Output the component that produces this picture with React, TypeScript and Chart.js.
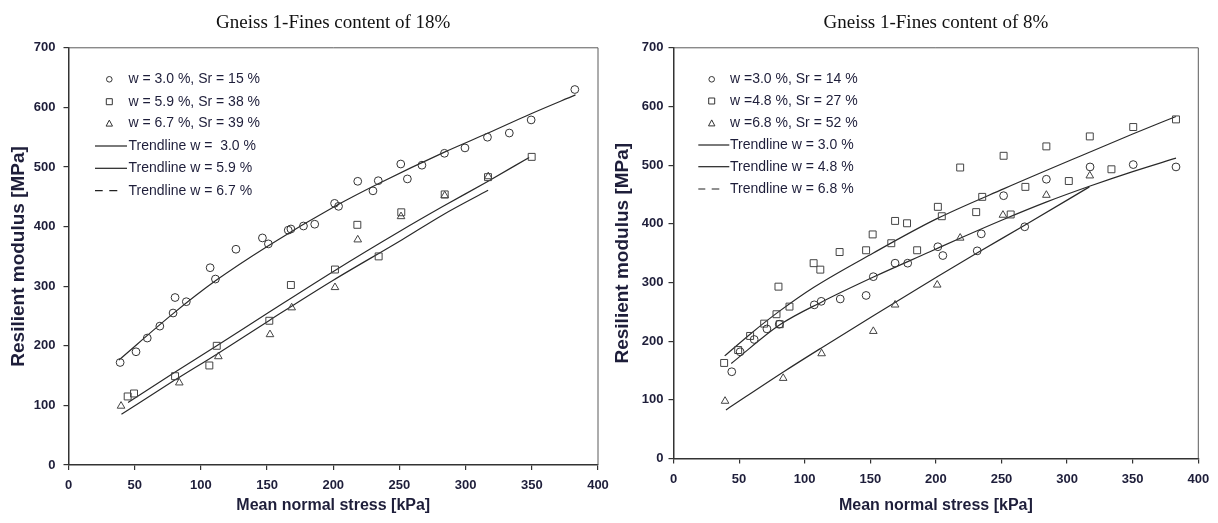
import React, { useEffect, useRef } from "react";
import { Chart, registerables } from "chart.js";

Chart.register(...registerables);

// ---------- shared axis values ----------
const stressTicks = [0, 50, 100, 150, 200, 250, 300, 350, 400];
const modulusTicks = [0, 100, 200, 300, 400, 500, 600, 700];

// ---------- Left panel: Gneiss 1 - fines content 18% ----------
const leftTitle = "Gneiss 1-Fines content of 18%";
const leftLabels = [
  "w = 3.0 %, Sr = 15 %",
  "w = 5.9 %, Sr = 38 %",
  "w = 6.7 %, Sr = 39 %",
  "Trendline w =  3.0 %",
  "Trendline w = 5.9 %",
  "Trendline w = 6.7 %",
];
const l30Stress = [39, 51, 59.5, 69, 79, 80.5, 89, 107, 111, 126.5, 146.5, 151, 166, 168, 177.5, 186, 201, 204, 218.5, 230, 234, 251, 256, 267, 284, 299.5, 316.5, 333, 349.5, 382.5];
const l30Modulus = [172, 190, 213, 233, 255, 281, 274, 331, 312, 362, 381, 371, 394, 396, 401, 404, 439, 434, 476, 460, 477, 505, 480, 503, 523, 532, 550, 557, 579, 630];
const l59Stress = [44.7, 49.5, 80.5, 106.4, 112, 151.7, 168, 201.3, 218.2, 234.3, 251.4, 284.2, 316.9, 349.9];
const l59Modulus = [115, 120, 149, 167, 200, 242, 302, 328, 403, 350, 424, 454, 483, 517];
const l67Stress = [39.7, 83.7, 113.2, 152.2, 168.6, 201.3, 218.5, 251.2, 284.2, 317.1];
const l67Modulus = [99, 138, 182, 219, 264, 298, 378, 417, 452, 484];
const lT30Stress = [38, 79, 111, 151, 202, 234, 284, 317, 349, 383];
const lT30Modulus = [176, 254, 309, 368, 435, 472, 525, 557, 589, 621];
const lT59Stress = [45, 80, 112, 152, 201, 251, 283, 316, 348];
const lT59Modulus = [105, 155, 200, 257, 326, 393, 434, 475, 516];
const lT67Stress = [40, 80, 112, 152, 200, 252, 283, 317];
const lT67Modulus = [85, 142, 186, 243, 310, 378, 420, 461];

// ---------- Right panel: Gneiss 1 - fines content 8% ----------
const rightTitle = "Gneiss 1-Fines content of 8%";
const rightLabels = [
  "w =3.0 %, Sr = 14 %",
  "w =4.8 %, Sr = 27 %",
  "w =6.8 %, Sr = 52 %",
  "Trendline w = 3.0 %",
  "Trendline w = 4.8 %",
  "Trendline w = 6.8 %",
];
const r30Stress = [44.4, 50.8, 61.5, 71.2, 80.6, 107.3, 112.6, 127.1, 146.8, 152.3, 168.9, 178.5, 201.5, 205.3, 231.5, 234.6, 251.6, 267.7, 284.2, 317.5, 350.4, 383];
const r30Modulus = [148, 182, 203, 221, 229, 262, 268, 272, 278, 310, 333, 333, 361, 346, 354, 383, 448, 395, 476, 497, 501, 497];
const r48Stress = [38.6, 49.3, 58.4, 69.1, 78.5, 80, 81, 88.4, 106.8, 111.9, 126.6, 146.8, 151.8, 166, 168.9, 178, 185.7, 201.5, 204.5, 218.5, 230.7, 235.3, 251.6, 257, 268.2, 284.2, 301.3, 317.3, 333.8, 350.4, 383];
const r48Modulus = [163, 185, 209, 230, 246, 293, 229, 259, 333, 322, 352, 355, 382, 367, 405, 401, 355, 429, 413, 496, 420, 446, 516, 416, 463, 532, 473, 549, 493, 565, 578];
const r68Stress = [39.3, 83.6, 112.9, 152.3, 168.9, 201, 218.5, 251.1, 284.2, 317.3];
const r68Modulus = [98, 137, 179, 217, 262, 296, 376, 415, 449, 482];
const rT30Stress = [44, 81, 113, 152, 195, 221, 251, 284, 317, 350, 383];
const rT30Modulus = [162, 228, 267, 309, 352, 378, 407, 437, 464, 489, 512];
const rT48Stress = [39, 60, 80, 107, 152, 200, 252, 317, 350, 383];
const rT48Modulus = [175, 215, 250, 292, 350, 408, 460, 522, 553, 583];
const rT68Stress = [40, 84, 113, 152, 201, 231, 268, 317];
const rT68Modulus = [83, 148, 189, 243, 310, 350, 398, 463];

// ---------- helpers ----------
const SANS = '"Liberation Sans", Arial, sans-serif';
const SERIF = '"Liberation Serif", "Times New Roman", serif';
const TEXT = "#1e1e3a";

const toPts = (xs: number[], ys: number[]) => xs.map((x, i) => ({ x, y: ys[i] }));

function markerSet(label: string, xs: number[], ys: number[], style: string, radius: number, kind: string, color: string) {
  return {
    label,
    data: toPts(xs, ys),
    showLine: false,
    pointStyle: style,
    pointRadius: radius,
    pointBorderWidth: 1,
    borderColor: color,
    pointBorderColor: color,
    backgroundColor: "rgba(0,0,0,0)",
    pointBackgroundColor: "rgba(0,0,0,0)",
    legendKind: kind,
  } as any;
}

function trendSet(label: string, xs: number[], ys: number[], kind: string) {
  return {
    label,
    data: toPts(xs, ys),
    showLine: true,
    pointRadius: 0,
    borderColor: "#2a2a2a",
    borderWidth: 1.2,
    cubicInterpolationMode: "monotone",
    fill: false,
    legendKind: kind,
  } as any;
}

function drawMarker(ctx: CanvasRenderingContext2D, kind: string, x: number, y: number) {
  ctx.save();
  ctx.strokeStyle = "#333";
  ctx.lineWidth = 1;
  ctx.beginPath();
  if (kind === "circle") {
    ctx.arc(x, y, 2.8, 0, Math.PI * 2);
  } else if (kind === "rect") {
    ctx.rect(x - 3, y - 3, 6, 6);
  } else {
    ctx.moveTo(x, y - 3.4);
    ctx.lineTo(x + 3.2, y + 2.6);
    ctx.lineTo(x - 3.2, y + 2.6);
    ctx.closePath();
  }
  ctx.stroke();
  ctx.restore();
}

const innerLegend = {
  id: "innerLegend",
  afterDraw(chart: any, _args: any, opts: any) {
    const { ctx } = chart;
    const ds = chart.data.datasets;
    ctx.save();
    ctx.font = `14px ${SANS}`;
    ctx.textBaseline = "middle";
    ctx.textAlign = "left";
    ds.forEach((d: any, i: number) => {
      const y = opts.rows[i];
      const kind = d.legendKind;
      if (kind === "line") {
        ctx.strokeStyle = "#222";
        ctx.lineWidth = 1.2;
        ctx.beginPath();
        ctx.moveTo(opts.lineX0, y);
        ctx.lineTo(opts.lineX1, y);
        ctx.stroke();
      } else if (kind === "dash") {
        ctx.strokeStyle = "#222";
        ctx.lineWidth = 1.2;
        ctx.beginPath();
        ctx.moveTo(opts.dash[0], y);
        ctx.lineTo(opts.dash[1], y);
        ctx.moveTo(opts.dash[2], y);
        ctx.lineTo(opts.dash[3], y);
        ctx.stroke();
      } else {
        drawMarker(ctx, kind, opts.markerX, y);
      }
      ctx.fillStyle = TEXT;
      ctx.fillText(d.label, opts.textX, y);
    });
    ctx.restore();
  },
};

const frameBox = {
  id: "frameBox",
  beforeDatasetsDraw(chart: any) {
    const { ctx, chartArea: a } = chart;
    ctx.save();
    ctx.strokeStyle = "#5a5a5a";
    ctx.lineWidth = 1;
    ctx.beginPath();
    ctx.moveTo(a.left, a.top);
    ctx.lineTo(a.right, a.top);
    ctx.lineTo(a.right, a.bottom);
    ctx.stroke();
    ctx.restore();
  },
};

type PanelCfg = {
  title: string;
  datasets: any[];
  width: number;
  yWidth: number;
  xHeight: number;
  padRight: number;
  yTickPad: number;
  yTitlePad: number;
  legend: any;
};

function buildConfig(p: PanelCfg): any {
  return {
    type: "scatter",
    data: { datasets: p.datasets },
    plugins: [frameBox, innerLegend],
    options: {
      responsive: false,
      animation: false,
      events: [],
      devicePixelRatio: 1,
      layout: { padding: { left: 0, right: p.padRight, top: 0, bottom: 0 } },
      plugins: {
        legend: { display: false },
        tooltip: { enabled: false },
        title: {
          display: true,
          text: p.title,
          fullSize: false,
          color: "#111",
          font: { family: SERIF, size: 19, weight: "normal", lineHeight: 1.2 },
          padding: { top: 12, bottom: 13 },
        },
        innerLegend: p.legend,
      },
      scales: {
        x: {
          type: "linear",
          min: 0,
          max: 400,
          afterBuildTicks: (s: any) => {
            s.ticks = stressTicks.map((v) => ({ value: v }));
          },
          afterFit: (s: any) => {
            s.height = p.xHeight;
          },
          ticks: { color: TEXT, font: { family: SANS, size: 13, weight: "bold" }, padding: 8, maxRotation: 0 },
          grid: { display: true, drawOnChartArea: false, drawTicks: true, tickLength: 5, color: "#333", lineWidth: 1.2 },
          border: { display: true, color: "#333", width: 1.5 },
          title: {
            display: true,
            text: "Mean normal stress [kPa]",
            color: TEXT,
            font: { family: SANS, size: 16, weight: "bold", lineHeight: 1.2 },
            padding: { top: 0, bottom: 8 },
          },
        },
        y: {
          type: "linear",
          min: 0,
          max: 700,
          afterBuildTicks: (s: any) => {
            s.ticks = modulusTicks.map((v) => ({ value: v }));
          },
          afterFit: (s: any) => {
            s.width = p.yWidth;
          },
          ticks: { color: TEXT, font: { family: SANS, size: 13, weight: "bold" }, padding: p.yTickPad },
          grid: { display: true, drawOnChartArea: false, drawTicks: true, tickLength: 5, color: "#333", lineWidth: 1.2 },
          border: { display: true, color: "#333", width: 1.5 },
          title: {
            display: true,
            text: "Resilient modulus [MPa]",
            color: TEXT,
            font: { family: SANS, size: 19, weight: "bold", lineHeight: 1.2 },
            padding: { top: p.yTitlePad, bottom: 0 },
          },
        },
      },
    },
  };
}

function Panel({ cfg, left }: { cfg: PanelCfg; left: number }) {
  const ref = useRef<HTMLCanvasElement | null>(null);
  useEffect(() => {
    if (!ref.current) return;
    const chart = new Chart(ref.current, buildConfig(cfg));
    return () => chart.destroy();
  }, []);
  return (
    <canvas
      ref={ref}
      width={cfg.width}
      height={523}
      style={{ position: "absolute", left, top: 0, width: cfg.width, height: 523 }}
    />
  );
}

const leftCfg: PanelCfg = {
  title: leftTitle,
  datasets: [
    markerSet(leftLabels[0], l30Stress, l30Modulus, "circle", 3.9, "circle", "#333"),
    markerSet(leftLabels[1], l59Stress, l59Modulus, "rect", 4.9, "rect", "#444"),
    markerSet(leftLabels[2], l67Stress, l67Modulus, "triangle", 4.4, "triangle", "#444"),
    trendSet(leftLabels[3], lT30Stress, lT30Modulus, "line"),
    trendSet(leftLabels[4], lT59Stress, lT59Modulus, "line"),
    trendSet(leftLabels[5], lT67Stress, lT67Modulus, "dash"),
  ],
  width: 622,
  yWidth: 68.5,
  xHeight: 58,
  padRight: 24,
  yTickPad: 8,
  yTitlePad: 7,
  legend: {
    rows: [79.3, 101.7, 123.5, 146, 168.3, 190.7],
    markerX: 109.3,
    textX: 128.5,
    lineX0: 95,
    lineX1: 127,
    dash: [95, 102.7, 109.3, 117.3],
  },
};

const rightCfg: PanelCfg = {
  title: rightTitle,
  datasets: [
    markerSet(rightLabels[0], r30Stress, r30Modulus, "circle", 3.9, "circle", "#333"),
    markerSet(rightLabels[1], r48Stress, r48Modulus, "rect", 4.9, "rect", "#444"),
    markerSet(rightLabels[2], r68Stress, r68Modulus, "triangle", 4.4, "triangle", "#444"),
    trendSet(rightLabels[3], rT30Stress, rT30Modulus, "line"),
    trendSet(rightLabels[4], rT48Stress, rT48Modulus, "line"),
    trendSet(rightLabels[5], rT68Stress, rT68Modulus, "dash"),
  ],
  width: 609,
  yWidth: 64.5,
  xHeight: 64.4,
  padRight: 19.7,
  yTickPad: 5,
  yTitlePad: 2.5,
  legend: {
    rows: [79.3, 101, 123.3, 145, 166.7, 189],
    markerX: 102.7,
    textX: 121,
    lineX0: 89.3,
    lineX1: 120.3,
    dash: [89.3, 96.3, 102.7, 110.3],
  },
};

export default function App() {
  return (
    <div style={{ position: "fixed", left: 0, top: 0, width: 1218, height: 523, background: "#fff", overflow: "hidden" }}>
      <Panel cfg={leftCfg} left={0} />
      <Panel cfg={rightCfg} left={609} />
    </div>
  );
}
